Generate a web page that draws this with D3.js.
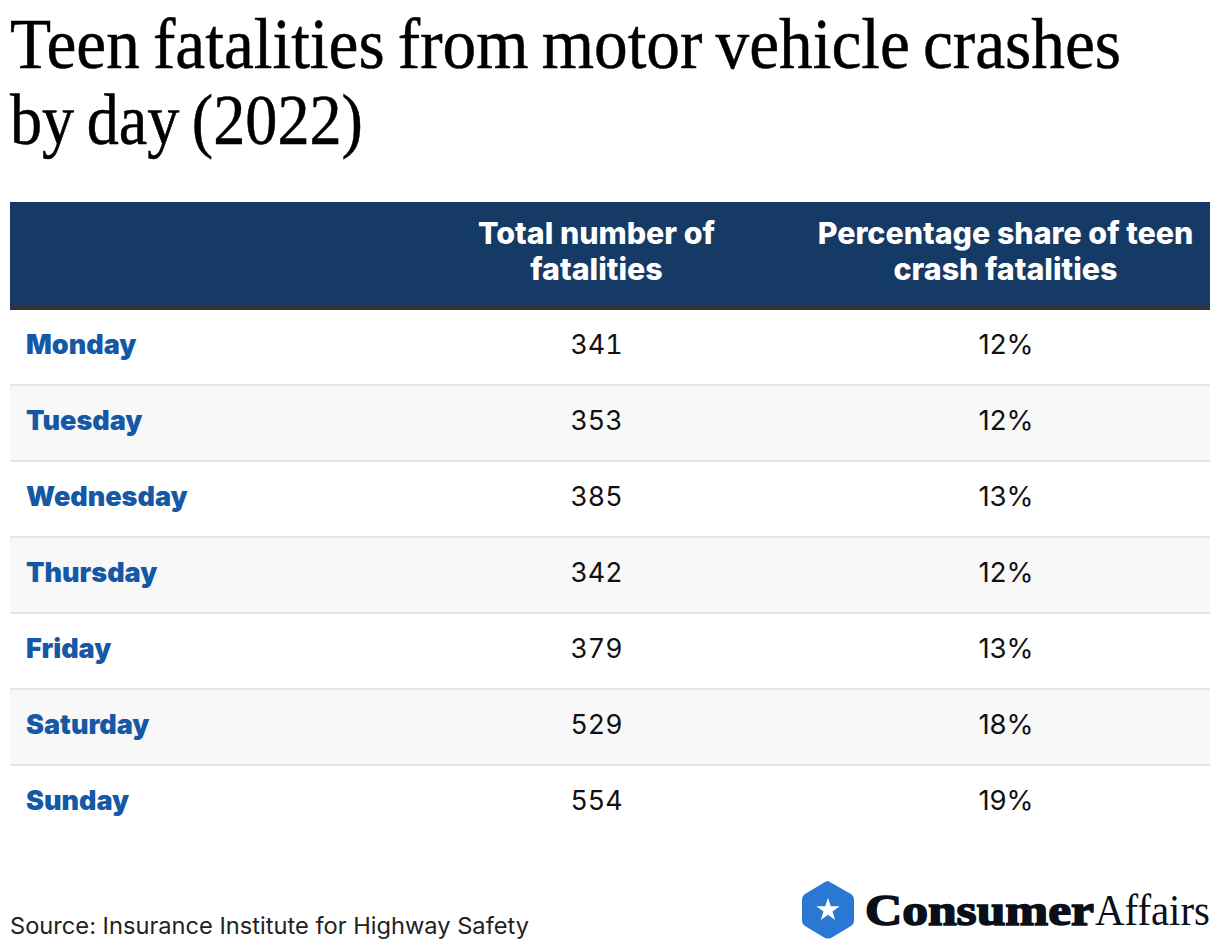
<!DOCTYPE html>
<html><head><meta charset="utf-8">
<script src="https://cdn.jsdelivr.net/npm/d3@7"></script>
<style>html,body{margin:0;padding:0;background:#fff}svg{display:block}</style>
</head><body><div id="c"></div>
<script>
const titleLines = ["Teen fatalities from motor vehicle crashes", "by day (2022)"];
const headerCol1 = ["Total number of", "fatalities"];
const headerCol2 = ["Percentage share of teen", "crash fatalities"];
const days = ["Monday","Tuesday","Wednesday","Thursday","Friday","Saturday","Sunday"];
const totals = [341,353,385,342,379,529,554];
const shares = [12,12,13,12,13,18,19];
const sourceText = "Source: Insurance Institute for Highway Safety";

const svg = d3.select("#c").append("svg").attr("width",1220).attr("height",950);
const y = d3.scaleBand().domain(days).range([309,841]);
const sans = "Inter, Roboto, sans-serif";

svg.selectAll("text.t").data(titleLines).join("text").attr("class","t")
  .attr("x",10).attr("y",(d,i)=>68+i*76)
  .attr("font-family","'Liberation Serif',serif").attr("font-size",72).attr("fill","#000")
  .attr("stroke","#000").attr("stroke-width",0.5).attr("word-spacing",-4)
  .attr("textLength",(d,i)=>i?353:1111).attr("lengthAdjust","spacingAndGlyphs").text(d=>d);

svg.append("rect").attr("x",10).attr("y",202).attr("width",1200).attr("height",104).attr("fill","#163A66");
svg.append("rect").attr("x",10).attr("y",306).attr("width",1200).attr("height",4).attr("fill","#333333");

const g = svg.selectAll("g.row").data(days).join("g").attr("class","row");
g.filter((d,i)=>i%2==1).append("rect").attr("x",10).attr("width",1200)
  .attr("y",d=>y(d)+1).attr("height",y.bandwidth()-1).attr("fill","#F8F8F8");
g.filter((d,i)=>i<6).append("rect").attr("x",10).attr("width",1200)
  .attr("y",d=>y(d)+y.bandwidth()-1).attr("height",2).attr("fill","#E6E6E6");

const cy = d=>y(d)+y.bandwidth()/2+8-1;
g.append("text").attr("x",26).attr("y",cy).attr("font-family",sans).attr("font-weight",900)
  .attr("font-size",27).attr("fill","#1558A6").text(d=>d);
g.append("text").attr("x",596.5).attr("y",cy).attr("text-anchor","middle").attr("font-family",sans)
  .attr("font-size",26.8).attr("fill","#111").style("font-variant-numeric","tabular-nums").text((d,i)=>totals[i]);
g.append("text").attr("x",1006).attr("y",cy).attr("text-anchor","middle").attr("font-family",sans)
  .attr("font-size",27.5).attr("fill","#111").text((d,i)=>shares[i]+"%");

[[596.5,headerCol1],[1005.5,headerCol2]].forEach(([x,lines])=>{
  svg.selectAll(null).data(lines).join("text").attr("x",x).attr("y",(d,i)=>244+i*36)
    .attr("text-anchor","middle").attr("font-family",sans).attr("font-weight",800)
    .attr("font-size",30.4).attr("fill","#fff").text(d=>d);
});

svg.append("text").attr("x",10).attr("y",934).attr("font-family",sans)
  .attr("font-size",23).attr("fill","#222").attr("textLength",519).attr("lengthAdjust","spacingAndGlyphs").text(sourceText);

// logo
const hex = "M828 881 L851 894 Q854 896 854 899 L854 921 Q854 924 851 926 L831 938 Q828 939 825 938 L805 926 Q802 924 802 921 L802 899 Q802 896 805 894 L825 882 Q827 881 828 881 Z";
svg.append("path").attr("d",hex).attr("fill","#2B78D4");
svg.append("path").attr("d",d3.symbol(d3.symbolStar,170)()).attr("transform","translate(828,910)").attr("fill","#fff");
svg.append("text").attr("x",865).attr("y",925).attr("font-family","'Liberation Serif',serif").attr("fill","#0A0F18").attr("font-size",44)
  .attr("font-weight",700).attr("stroke","#0A0F18").attr("stroke-width",1.6).attr("textLength",229).attr("lengthAdjust","spacingAndGlyphs").text("Consumer");
svg.append("text").attr("x",1095).attr("y",925).attr("font-family","'Liberation Serif',serif").attr("fill","#0A0F18").attr("font-size",44)
  .attr("textLength",115).attr("lengthAdjust","spacingAndGlyphs").text("Affairs");
</script></body></html>
